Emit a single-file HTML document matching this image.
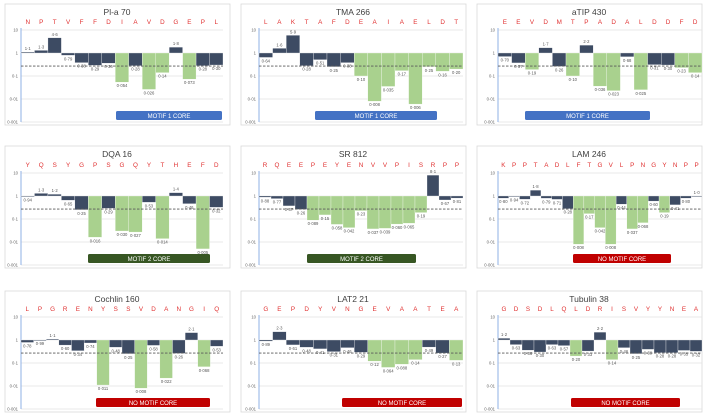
<!DOCTYPE html>
<html><head><meta charset="utf-8"><style>
html,body{margin:0;padding:0;background:#fff;width:709px;height:417px;overflow:hidden}
svg{display:block;font-family:"Liberation Sans",sans-serif}
</style></head><body>
<svg id="chart" width="709" height="417" viewBox="0 0 709 417"></svg>
<script>
const titles=["Pl-a 70","TMA 266","aTIP 430","DQA 16","SR 812","LAM 246","Cochlin 160","LAT2 21","Tubulin 38"];
const residues=["NPTVFFDIAVDGEPL","LAKTAFDEAIAELDT","EEVDMTPADALDDFD","YQSYGPSGQYTHEFD","RQEEPEYENVVPISRPP","KPPTADLFTGVLPNGYNPP","LPGRENYSSVDANGIQ","GEPDYVNGEVAATEA","GDSDLQLDRISVYYNEA"];
const values1=[1.1,1.3,4.6,0.79,0.38,0.29,0.36,0.054,0.28,0.026,0.14,1.8,0.073,0.28,0.30];
const values2=[0.64,1.6,5.9,0.28,0.51,0.25,0.38,0.10,0.008,0.035,0.17,0.006,0.25,0.16,0.20];
const values3=[0.70,0.37,0.19,1.7,0.26,0.10,2.2,0.036,0.023,0.68,0.025,0.31,0.30,0.23,0.14];
const values4=[0.94,1.3,1.2,0.65,0.25,0.016,0.29,0.030,0.027,0.53,0.014,1.4,0.46,0.005,0.32];
const values5=[0.88,0.77,0.37,0.26,0.089,0.15,0.058,0.042,0.23,0.037,0.039,0.060,0.065,0.19,8.1,0.67,0.81];
const values6=[0.80,0.94,0.72,1.8,0.79,0.71,0.28,0.008,0.17,0.042,0.008,0.44,0.037,0.068,0.60,0.19,0.41,0.80,1.0];
const values7=[0.78,0.99,1.1,0.60,0.34,0.74,0.011,0.48,0.25,0.008,0.58,0.022,0.26,2.1,0.068,0.53];
const values8=[0.89,2.3,0.61,0.48,0.41,0.31,0.46,0.29,0.12,0.064,0.088,0.14,0.49,0.27,0.13];
const values9=[1.2,0.63,0.36,0.30,0.63,0.57,0.20,0.33,2.2,0.14,0.46,0.25,0.39,0.28,0.28,0.35,0.32];
const valueSets=[values1,values2,values3,values4,values5,values6,values7,values8,values9];
const greenIdx=[[7,9,10,12],[7,8,9,10,11,12,13,14],[2,5,7,8,10,13,14],[5,7,8,10,13],[4,5,6,7,8,9,10,11,12,13],[7,8,9,10,12,13,15],[6,9,11,14],[8,9,10,11,14],[6,9]];
const motifLabels=["MOTIF 1 CORE","MOTIF 1 CORE","MOTIF 1 CORE","MOTIF 2 CORE","MOTIF 2 CORE","NO MOTIF CORE","NO MOTIF CORE","NO MOTIF CORE","NO MOTIF CORE"];
const motifColors=["#4472c4","#4472c4","#4472c4","#375623","#375623","#c00000","#c00000","#c00000","#c00000"];
const tickLabels=["10","1","0·1","0·01","0·001"];
const threshold=0.27;

// layout
const colPlot=[[21,223],[259,463],[498,702]];
const rowTop=[4,146,291];
const rowTen=[30,173,317];
const boxX=[[116,222],[315,437],[525,650],[88,210],[307,416],[573,671],[96,210],[342,462],[571,680]];
const NS="http://www.w3.org/2000/svg";
const svg=document.getElementById('chart');
function mk(tag,attrs,parent){const e=document.createElementNS(NS,tag);for(const k in attrs)e.setAttribute(k,attrs[k]);(parent||svg).appendChild(e);return e;}
function fmt(v){let s=v>=1?v.toFixed(1):(v>=0.1?v.toFixed(2):String(+v.toPrecision(2)));if(v<0.1&&v>=0.01)s=v.toFixed(3);if(v<0.01)s=v.toFixed(3);return s.replace('.','·');}

for(let p=0;p<9;p++){
  const c=p%3,r=Math.floor(p/3);
  const x0=colPlot[c][0],x1=colPlot[c][1];
  const colL=[5,241,477][c];
  const top=rowTop[r];
  const yTen=rowTen[r];
  const dec=23;
  const y=v=>yTen+(1-Math.log10(v))*dec;
  const g=mk('g',{});
  
  
  const border=mk('rect',{x:colL,y:top,width:225,height:yTen+95-top,fill:'#fff',stroke:'#d9d9d9','stroke-width':0.8},g);
  
  const t=mk('text',{x:colL+112,y:top+11,'text-anchor':'middle','font-size':8.5,fill:'#404040'},g);
  t.textContent=titles[p];
  
  const vals=valueSets[p],n=vals.length,bw=(x1-x0)/n;
  // gridlines + ticks
  for(let k=0;k<5;k++){
    const yy=yTen+k*dec;
    const gl=mk('line',{x1:x0,x2:x1,y1:yy,y2:yy,stroke:'#e3e3e3','stroke-width':0.7},g);
    
    const tl=mk('text',{x:x0-3,y:yy+1.5,'text-anchor':'end','font-size':4.2,fill:'#666'},g);
    tl.textContent=tickLabels[k];
    
  }
  const ax=mk('line',{x1:x0,x2:x0,y1:yTen-2,y2:yTen+4*dec,stroke:'#8fb0e6','stroke-width':1},g);
  
  // motif box
  const bx=boxX[p];
  const mb=mk('rect',{x:bx[0],y:yTen+81,width:bx[1]-bx[0],height:9,rx:1.5,fill:motifColors[p]},g);
  
  const mt=mk('text',{x:(bx[0]+bx[1])/2,y:yTen+88,'text-anchor':'middle','font-size':6,fill:'#fff'},g);
  mt.textContent=motifLabels[p];
  
  for(let i=0;i<n;i++){
    const v=vals[i],xb=x0+i*bw;
    const y1=y(1),yv=y(v);
    const green=greenIdx[p].includes(i);
    const bar=mk('rect',{x:xb,y:Math.min(y1,yv),width:bw,height:Math.max(0.8,Math.abs(yv-y1)),fill:green?'#a9d18e':'#3d4b63',stroke:'#fff','stroke-width':0.3},g);
    
    
    const lab=mk('text',{x:xb+bw/2,y:v>=1?yv-2:yv+5,'text-anchor':'middle','font-size':4.2,fill:'#555'},g);
    lab.textContent=fmt(v);
    
    const rl=mk('text',{x:xb+bw/2,y:yTen-6,'text-anchor':'middle','font-size':6.3,fill:'#e03030'},g);
    rl.textContent=residues[p][i];
    
  }
  const th=mk('line',{x1:x0,x2:x1,y1:y(threshold),y2:y(threshold),stroke:'#595959','stroke-width':0.8,'stroke-dasharray':'2.5,1.5'},g);
  
}
</script>
</body></html>
